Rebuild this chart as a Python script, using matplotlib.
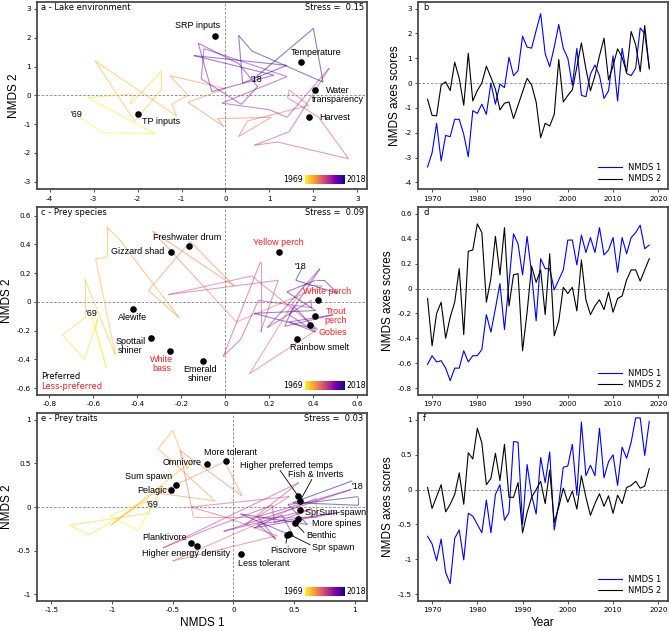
import numpy as np
import matplotlib
matplotlib.use("Agg")
import matplotlib.pyplot as plt
from matplotlib.collections import LineCollection
from matplotlib.ticker import FuncFormatter

plt.rcParams["axes.unicode_minus"] = False

years = np.arange(1969, 2019)

# lake environment NMDS scores (panels a, b)
env_nmds1 = [-3.38, -2.81, -1.62, -3.14, -2.11, -2.16, -1.46, -1.46, -2.07, -2.97,
             -1.11, -1.22, -0.85, -1.26, 0.0, -0.85, -0.04, -0.18, 1.04, 0.3,
             0.5, 1.89, 1.45, 1.41, 2.12, 2.8, 1.18, 0.66, 1.45, 2.36,
             1.4, 1.0, -0.08, 1.4, -0.49, -0.55, 0.36, 0.73, 0.3, -0.62,
             -0.31, 1.1, -0.72, 1.4, 0.39, 0.3, 0.6, 2.22, 2.0, 0.64]
env_nmds2 = [-0.65, -1.3, -1.32, -0.08, 0.05, -0.3, 0.84, 0.19, -0.89, 1.2,
             -0.72, -0.3, 0.0, 0.68, 0.23, -0.24, -1.08, -0.81, -0.76, -1.43,
             -0.89, -0.35, 0.19, -0.08, -0.76, -2.2, -1.62, -1.73, -1.26, 0.95,
             -0.76, -0.5, -0.27, 0.65, 1.62, 0.57, -0.31, 0.3, 1.1, 1.81,
             0.13, 0.7, 1.38, 1.04, 0.43, 2.08, 1.54, 0.46, 2.32, 0.57]

# prey species NMDS scores (panels c, d)
sp_nmds1 = [-0.61, -0.54, -0.59, -0.58, -0.64, -0.74, -0.64, -0.64, -0.5, -0.59,
            -0.54, -0.54, -0.49, -0.21, -0.35, -0.16, 0.04, -0.33, 0.05, 0.44,
            0.36, 0.11, 0.42, 0.12, -0.26, 0.24, 0.16, 0.16, -0.01, 0.07,
            0.15, 0.39, 0.39, 0.19, 0.43, 0.29, 0.41, 0.29, 0.49, 0.27,
            0.31, 0.41, 0.13, 0.41, 0.28, 0.41, 0.45, 0.51, 0.32, 0.35]
sp_nmds2 = [-0.08, -0.46, -0.2, -0.11, -0.4, -0.23, -0.11, 0.16, -0.37, 0.3,
            0.31, 0.52, 0.45, -0.11, 0.08, 0.42, 0.11, 0.49, -0.14, 0.11,
            0.12, -0.5, -0.19, 0.18, 0.05, 0.15, -0.21, 0.28, -0.38, -0.26,
            0.01, -0.04, 0.01, -0.18, 0.23, -0.09, -0.21, -0.14, -0.09, -0.17,
            -0.03, -0.19, -0.08, -0.06, 0.07, 0.15, 0.15, 0.06, 0.15, 0.24]

# prey traits NMDS scores (panels e, f)
tr_nmds1 = [-0.67, -0.78, -1.02, -0.71, -1.19, -1.35, -0.7, -0.58, -1.01, -0.34,
            -0.38, -0.5, -0.62, -0.15, -0.62, -0.07, 0.07, -0.44, -0.33, 0.69,
            0.68, -0.5, 0.36, -0.08, -0.35, 0.46, 0.1, 0.54, -0.58, -0.2,
            0.32, 0.34, 0.65, -0.08, 0.97, 0.2, 0.35, 0.2, 0.88, 0.17,
            0.4, 0.5, 0.06, 0.61, 0.45, 0.68, 1.03, 1.03, 0.49, 0.98]
tr_nmds2 = [0.03, -0.27, -0.1, 0.07, -0.32, -0.21, -0.07, 0.24, -0.21, 0.53,
            0.44, 0.88, 0.67, 0.07, 0.16, 0.52, 0.13, 0.65, -0.11, -0.11,
            0.1, -0.62, -0.33, -0.11, 0.0, 0.12, -0.2, 0.28, -0.47, -0.25,
            0.02, -0.18, -0.02, -0.28, 0.2, -0.11, -0.37, -0.2, -0.06, -0.24,
            -0.09, -0.34, -0.08, -0.2, 0.03, 0.06, 0.12, 0.02, 0.05, 0.3]

# fitted variables / species / traits
env_names = ["SRP inputs", "Temperature", "Water\ntransparency", "Harvest", "TP inputs"]
env_x = [-0.23, 1.71, 2.04, 1.91, -1.98]
env_y = [2.06, 1.15, 0.19, -0.74, -0.64]

sp_names = ["Freshwater drum", "Gizzard shad", "Yellow perch", "White perch", "Trout\nperch",
            "Gobies", "Rainbow smelt", "Alewife", "Spottail\nshiner", "White\nbass", "Emerald\nshiner"]
sp_x = [-0.165, -0.247, 0.242, 0.42, 0.408, 0.385, 0.327, -0.42, -0.338, -0.25, -0.1]
sp_y = [0.39, 0.347, 0.347, 0.01, -0.097, -0.164, -0.26, -0.05, -0.252, -0.34, -0.41]
sp_preferred = [True, True, False, False, False, False, True, True, True, False, True]

tr_names = ["More tolerant", "Omnivore", "Sum spawn", "Pelagic", "Planktivore",
            "Higher energy density", "Less tolerant", "Higher preferred temps", "Fish & Inverts",
            "SprSum spawn", "More spines", "Benthic", "Piscivore", "Spr spawn"]
tr_x = [-0.06, -0.214, -0.475, -0.511, -0.346, -0.3, 0.066, 0.536, 0.55, 0.55, 0.53, 0.511, 0.445, 0.456]
tr_y = [0.534, 0.495, 0.253, 0.192, -0.415, -0.445, -0.537, 0.123, 0.07, -0.03, -0.134, -0.188, -0.32, -0.31]

# label placement: (x, y, ha) for each name, plus optional leader line start
env_lab = [(-0.63, 2.41, "center"), (2.06, 1.47, "center"), (2.55, 0.01, "center"),
           (2.13, -0.78, "left"), (-1.9, -0.89, "left")]
sp_lab = [(-0.173, 0.449, "center"), (-0.277, 0.351, "right"), (0.239, 0.414, "center"),
          (0.355, 0.07, "left"), (0.502, -0.098, "center"), (0.423, -0.21, "left"),
          (0.294, -0.319, "left"), (-0.421, -0.106, "center"), (-0.433, -0.308, "center"),
          (-0.289, -0.435, "center"), (-0.115, -0.504, "center")]
tr_lab = [(-0.027, 0.63, "center"), (-0.261, 0.514, "right"), (-0.70, 0.353, "center"),
          (-0.549, 0.192, "right"), (-0.569, -0.345, "center"), (-0.393, -0.537, "center"),
          (0.247, -0.649, "center"), (0.44, 0.476, "center"), (0.681, 0.372, "center"),
          (0.59, -0.058, "left"), (0.646, -0.192, "left"), (0.604, -0.33, "left"),
          (0.453, -0.503, "center"), (0.651, -0.46, "left")]
tr_leaders = {7: (0.385, 0.42), 8: (0.646, 0.315), 11: (0.582, -0.29),
              12: (0.434, -0.415), 13: (0.632, -0.434)}

SANS = "Liberation Sans"
VERD = "DejaVu Sans"
TICK = 5.2
SMALL = 6.0
cmap = plt.get_cmap("plasma_r")
spine_col = "#4a4a4a"


def fmt(v, pos):
    v = round(v, 2)
    if v == 0:
        return "0"
    return "%g" % v


def style_axes(ax, xlim, ylim, xticks, yticks):
    ax.set_xlim(xlim)
    ax.set_ylim(ylim)
    ax.set_xticks(xticks)
    ax.set_yticks(yticks)
    ax.xaxis.set_major_formatter(FuncFormatter(fmt))
    ax.yaxis.set_major_formatter(FuncFormatter(fmt))
    ax.tick_params(labelsize=TICK, length=2.5, width=0.7, color=spine_col, pad=2)
    for t in ax.get_xticklabels() + ax.get_yticklabels():
        t.set_family(VERD)
    for s in ax.spines.values():
        s.set_color(spine_col)
        s.set_linewidth(1.3)


def trajectory(ax, x, y, last):
    pts = np.column_stack([x, y])
    segs = np.stack([pts[:-1], pts[1:]], axis=1)
    lc = LineCollection(segs, cmap=cmap, norm=plt.Normalize(1969, 2017), alpha=0.5, linewidths=0.8)
    lc.set_array(years[:-1])
    ax.add_collection(lc)
    ax.text(x[0], y[0], "'69", fontsize=6.5, family=SANS, ha="center", va="center")
    ax.text(last[0], last[1], "'18", fontsize=6.5, family=SANS, ha="center", va="center")


def year_key(ax):
    ax.text(0.805, 0.052, "1969", transform=ax.transAxes, fontsize=5.6, family=VERD,
            ha="right", va="center")
    ax.text(0.938, 0.052, "2018", transform=ax.transAxes, fontsize=5.6, family=VERD,
            ha="left", va="center")
    cax = ax.inset_axes([0.812, 0.028, 0.121, 0.048])
    cax.imshow(np.linspace(0, 1, 256)[None, :], cmap=cmap, aspect="auto")
    cax.set_axis_off()


def zero_lines(ax, vertical=True):
    ax.axhline(0, color="#808080", lw=0.6, ls=(0, (3, 2)), zorder=0)
    if vertical:
        ax.axvline(0, color="#808080", lw=0.6, ls=(0, (3, 2)), zorder=0)


fig = plt.figure(figsize=(6.69, 6.31), dpi=100)
rows = [(0.7000, 0.2973), (0.3740, 0.2980), (0.0475, 0.2980)]
left_axes = [fig.add_axes([0.0558, b, 0.4928, h]) for b, h in rows]
right_axes = [fig.add_axes([0.6253, b, 0.3725, h]) for b, h in rows]

# ---- panel a
ax = left_axes[0]
style_axes(ax, (-4.28, 3.22), (-3.26, 3.25), range(-4, 4), range(-3, 4))
zero_lines(ax)
trajectory(ax, env_nmds1, env_nmds2, (0.71, 0.56))
ax.scatter(env_x, env_y, s=14, color="black", zorder=4)
for n, (lx, ly, ha) in zip(env_names, env_lab):
    ax.text(lx, ly, n, fontsize=6.5, family=SANS, ha=ha, va="center", linespacing=1.0)
ax.text(0.01, 0.955, "a - Lake environment", transform=ax.transAxes, fontsize=SMALL, family=VERD)
ax.text(0.99, 0.955, "Stress =  0.15", transform=ax.transAxes, fontsize=SMALL, family=VERD, ha="right")
year_key(ax)
ax.set_ylabel("NMDS 2", fontsize=8.5, family=SANS, labelpad=3)

# ---- panel c
ax = left_axes[1]
style_axes(ax, (-0.855, 0.644), (-0.648, 0.66), np.arange(-0.8, 0.61, 0.2), np.arange(-0.6, 0.61, 0.2))
zero_lines(ax)
trajectory(ax, sp_nmds1, sp_nmds2, (0.339, 0.245))
ax.scatter(sp_x, sp_y, s=14, color="black", zorder=4)
for n, (lx, ly, ha), p in zip(sp_names, sp_lab, sp_preferred):
    ax.text(lx, ly, n, fontsize=6.5, family=SANS, ha=ha, va="center", linespacing=1.0,
            color="black" if p else "#ff2020")
ax.text(0.01, 0.955, "c - Prey species", transform=ax.transAxes, fontsize=SMALL, family=VERD)
ax.text(0.99, 0.955, "Stress =  0.09", transform=ax.transAxes, fontsize=SMALL, family=VERD, ha="right")
ax.text(0.01, 0.097, "Preferred", transform=ax.transAxes, fontsize=SMALL, family=VERD, va="center")
ax.text(0.01, 0.043, "Less-preferred", transform=ax.transAxes, fontsize=SMALL, family=VERD,
        va="center", color="#ff2020")
year_key(ax)
ax.set_ylabel("NMDS 2", fontsize=8.5, family=SANS, labelpad=3)

# ---- panel e
ax = left_axes[2]
style_axes(ax, (-1.616, 1.102), (-1.08, 1.08), [-1.5, -1, -0.5, 0, 0.5, 1], [-1, -0.5, 0, 0.5, 1])
zero_lines(ax)
trajectory(ax, tr_nmds1, tr_nmds2, (1.02, 0.234))
ax.scatter(tr_x, tr_y, s=14, color="black", zorder=4)
for i, (n, (lx, ly, ha)) in enumerate(zip(tr_names, tr_lab)):
    ax.text(lx, ly, n, fontsize=6.5, family=SANS, ha=ha, va="center")
    if i in tr_leaders:
        sx, sy = tr_leaders[i]
        ax.plot([sx, tr_x[i]], [sy, tr_y[i]], color="black", lw=0.6, zorder=3)
ax.text(0.01, 0.955, "e - Prey traits", transform=ax.transAxes, fontsize=SMALL, family=VERD)
ax.text(0.99, 0.955, "Stress =  0.03", transform=ax.transAxes, fontsize=SMALL, family=VERD, ha="right")
year_key(ax)
ax.set_ylabel("NMDS 2", fontsize=8.5, family=SANS, labelpad=3)
ax.set_xlabel("NMDS 1", fontsize=8.5, family=SANS, labelpad=3)

# ---- right time series
series = [(env_nmds1, env_nmds2, "b", (-4.28, 3.28), range(-4, 4)),
          (sp_nmds1, sp_nmds2, "d", (-0.856, 0.656), np.arange(-0.8, 0.61, 0.2)),
          (tr_nmds1, tr_nmds2, "f", (-1.6, 1.1), [-1.5, -1, -0.5, 0, 0.5, 1])]
for ax, (s1, s2, lab, ylim, yt) in zip(right_axes, series):
    style_axes(ax, (1966.96, 2022.04), ylim, range(1970, 2021, 10), yt)
    zero_lines(ax, vertical=False)
    ax.plot(years, s1, color="#0000ff", lw=0.8, label="NMDS 1")
    ax.plot(years, s2, color="black", lw=0.8, label="NMDS 2")
    ax.text(0.02, 0.955, lab, transform=ax.transAxes, fontsize=SMALL, family=VERD)
    ax.legend(loc="lower right", frameon=False, prop={"family": VERD, "size": 6.0},
              handlelength=2.8, borderaxespad=0.3, labelspacing=0.3)
    ax.set_ylabel("NMDS axes scores", fontsize=8.5, family=SANS, labelpad=3)
right_axes[2].set_xlabel("Year", fontsize=8.5, family=SANS, labelpad=3)

fig.savefig("out.png", dpi=100)
